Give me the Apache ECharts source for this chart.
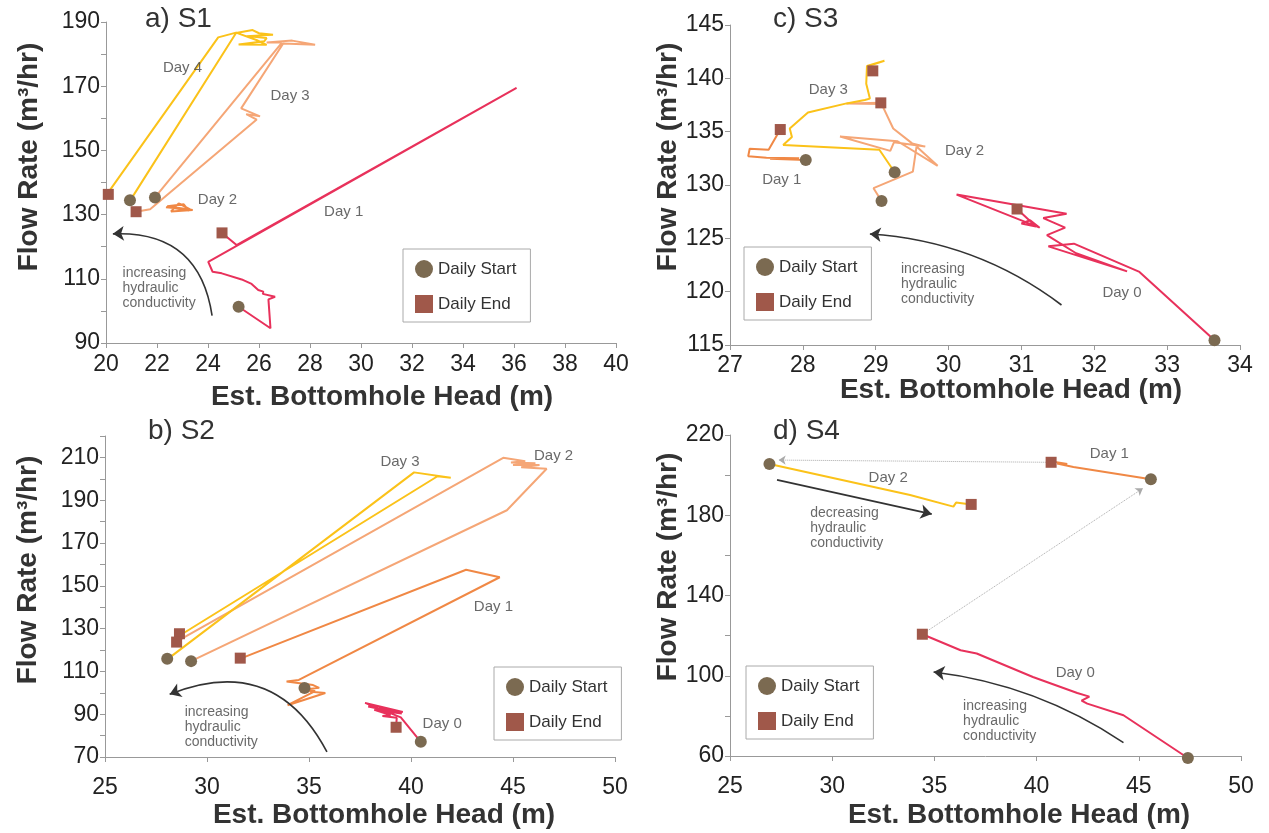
<!DOCTYPE html>
<html><head><meta charset="utf-8">
<script src="https://cdn.jsdelivr.net/npm/echarts@6/dist/echarts.min.js"></script>
<style>html,body{margin:0;padding:0;background:#fff}#c{width:1269px;height:833px}</style>
</head><body><div id="c"></div>
<script>
// ---------- S1 ----------
var s1_day1 = [[25.2,101.3],[26.45,94.6],[26.37,103.6],[26.63,104.4],[26.15,105.3],[26.17,106.0],[25.97,106.5],[25.71,108.4],[25.32,109.8],[24.54,111.7],[24.18,112.2],[24.01,115.3],[36.1,169.5],[25.12,120.5],[24.55,124.3]];
var s1_day2 = [[22.35,132.3],[23.3,131.6],[22.85,133.5],[22.55,131.0],[23.4,131.4],[22.4,132.6],[23.05,133.2],[23.25,131.2],[22.6,132.1]];
var s1_day3 = [[21.92,135.3],[22.05,136.6],[26.9,183.6],[26.3,183.6],[27.3,184.2],[28.2,182.9],[26.95,183.3],[25.3,163.1],[26.04,160.6],[25.5,161.3],[25.91,159.6],[21.73,131.7],[21.18,130.9]];
var s1_day4 = [[20.94,134.5],[21.1,136.3],[25.1,186.6],[25.75,187.5],[26.0,186.5],[26.55,186.0],[25.5,185.6],[26.3,185.0],[26.2,184.0],[25.2,183.0],[26.3,182.9],[25.9,184.4],[25.1,186.7],[24.4,185.2],[20.16,137.7],[20.09,136.3]];
var s1_start = [[25.2,101.3],[21.92,135.3],[20.94,134.5]];
var s1_end = [[24.55,124.3],[21.18,130.9],[20.09,136.3]];
var s1_dayLabels = [[23.0,175.8,'Day 4'],[27.22,166.9,'Day 3'],[24.37,134.7,'Day 2'],[29.32,131.0,'Day 1']];
var s1_note = [20.63,107.2,'increasing\nhydraulic\nconductivity'];
var s1_arrow = [[24.16,98.5],[20.27,124.0]];

// ---------- S2 ----------
var s2_day0 = [[40.48,77.1],[39.5,88.5],[37.75,95.3],[39.6,91.0],[37.9,93.6],[39.55,90.3],[38.2,92.0],[39.0,89.6],[38.6,89.2],[39.3,88.3],[39.27,83.9]];
var s2_day1 = [[34.78,102.2],[35.1,100.5],[35.8,99.9],[33.95,94.2],[35.3,100.8],[34.7,101.5],[35.5,102.3],[35.2,103.6],[33.9,105.3],[34.5,106.0],[44.35,154.0],[42.7,157.5],[31.7,116.2]];
var s2_day2 = [[29.22,114.8],[44.7,185.3],[46.65,204.7],[45.4,205.4],[46.3,206.4],[45.0,206.5],[46.1,207.3],[44.9,207.6],[45.6,208.2],[44.52,209.8],[28.7,125.0],[28.51,123.7]];
var s2_day3 = [[28.05,115.9],[28.31,117.5],[40.15,203.0],[41.95,200.5],[41.3,201.2],[28.7,127.0],[28.65,127.6]];
var s2_start = [[28.05,115.9],[29.22,114.8],[34.78,102.2],[40.48,77.1]];
var s2_end = [[28.65,127.6],[28.51,123.7],[31.63,116.2],[39.27,83.9]];
var s2_dayLabels = [[39.46,208.1,'Day 3'],[46.99,210.8,'Day 2'],[44.04,140.0,'Day 1'],[41.53,85.3,'Day 0']];
var s2_note = [28.88,84.0,'increasing\nhydraulic\nconductivity'];
var s2_arrow = [[35.88,72.4],[28.17,99.3]];

// ---------- S3 ----------
var s3_day0 = [[33.65,115.45],[32.62,121.85],[31.72,124.5],[31.37,124.25],[32.45,121.9],[31.75,123.6],[31.35,125.3],[31.6,126.0],[31.3,126.9],[31.62,127.3],[30.11,129.1],[31.25,126.0],[31.12,126.7],[31.0,126.4],[31.2,126.1],[30.94,127.75]];
var s3_day1 = [[28.04,132.35],[27.55,132.45],[27.95,132.5],[27.5,132.55],[27.25,132.7],[27.27,133.4],[27.53,133.3],[27.69,135.2]];
var s3_day2 = [[29.08,128.5],[28.97,129.7],[29.51,131.25],[29.56,133.6],[29.85,131.8],[29.3,134.1],[28.51,134.55],[29.2,133.2],[29.25,134.0],[29.68,133.6],[29.5,133.9],[29.24,135.3],[29.08,137.6],[28.6,137.65],[29.07,137.7]];
var s3_day3 = [[29.26,131.2],[29.05,133.3],[27.73,133.75],[27.85,134.5],[27.82,135.3],[28.07,136.8],[28.6,137.65],[28.85,137.97],[28.92,138.1],[28.87,139.5],[28.88,141.15],[29.12,141.65],[28.92,141.2],[28.96,140.7]];
var s3_start = [[28.04,132.35],[29.26,131.2],[29.08,128.5],[33.65,115.45]];
var s3_end = [[27.69,135.2],[28.96,140.7],[29.07,137.7],[30.94,127.75]];
var s3_dayLabels = [[28.35,138.9,'Day 3'],[30.22,133.2,'Day 2'],[27.71,130.5,'Day 1'],[32.38,119.9,'Day 0']];
var s3_note = [29.34,120.7,'increasing\nhydraulic\nconductivity'];
var s3_arrow = [[31.55,118.75],[28.92,125.4]];

// ---------- S4 ----------
var s4_day0 = [[47.4,59.0],[44.25,80.3],[42.48,86.1],[42.2,87.6],[42.58,89.6],[41.99,91.4],[39.82,99.4],[37.07,111.1],[36.28,112.7],[34.41,120.7]];
var s4_day1 = [[45.59,198.0],[41.8,204.0],[41.0,205.8],[41.5,205.6],[40.9,206.6],[40.71,206.4]];
var s4_day2 = [[26.93,205.5],[33.81,190.1],[35.93,184.3],[36.06,186.3],[36.8,185.4]];
var s4_start = [[26.93,205.5],[45.59,198.0],[47.4,59.0]];
var s4_end = [[40.71,206.4],[34.41,120.7],[36.8,185.4]];
var s4_dayLabels = [[43.56,210.4,'Day 1'],[32.74,198.7,'Day 2'],[41.89,101.4,'Day 0']];
var s4_noteDec = [28.9,173.4,'decreasing\nhydraulic\nconductivity'];
var s4_noteInc = [36.38,77.3,'increasing\nhydraulic\nconductivity'];
var s4_arrowInc = [[44.25,66.7],[34.96,101.9]];
var s4_arrowDec = [[27.3,197.6],[34.87,180.6]];
var s4_links = [[[34.41,120.7],[45.2,193.4]],[[40.57,206.4],[27.38,207.5]]];

// ---------- axes ----------
var xTicks = [{min:20,max:40,interval:2},{min:25,max:50,interval:5},{min:27,max:34,interval:1},{min:25,max:50,interval:5}];
var yTicks = [{min:90,max:190,interval:20,minor:2},{min:70,max:220,interval:20,minor:2},{min:115,max:145,interval:5,minor:0},{min:60,max:220,interval:40,minor:2}];
var panelTitles = ['a) S1','b) S2','c) S3','d) S4'];

var FONT = '"Liberation Sans", Arial, sans-serif';
var RED='#e8315b', ORANGE='#f08845', SALMON='#f5a676', YELLOW='#fbc219';
var CIRC='#7b6a51', SQR='#a0584a';

var grids = [
  {left:106, top:22, width:510, height:321},
  {left:105, top:436, width:510, height:321},
  {left:730, top:25, width:510, height:320},
  {left:730, top:435, width:511, height:321}
];
var xLabelMargin = [10, 19, 9, 19];

var xAxes = xTicks.map(function(t,i){
  return {type:'value', gridIndex:i, min:t.min, max:t.max, interval:t.interval,
    axisLine:{onZero:false, lineStyle:{color:'#999',width:1}},
    axisTick:{show:true,length:5,lineStyle:{color:'#999'}},
    splitLine:{show:false},
    axisLabel:{fontSize:23,color:'#222',margin:xLabelMargin[i],fontFamily:FONT}};
});
var yAxes = yTicks.map(function(t,i){
  return {type:'value', gridIndex:i, min:t.min, max:t.max, interval:t.interval,
    axisLine:{onZero:false, lineStyle:{color:'#999',width:1}},
    axisTick:{show:true,length:5,lineStyle:{color:'#999'}},
    minorTick:{show:t.minor>0, splitNumber:t.minor||5, length:5, lineStyle:{color:'#999'}},
    splitLine:{show:false},
    axisLabel:{fontSize:23,color:'#222',margin:6,fontFamily:FONT, showMaxLabel: (i!==1)}};
});

var series = [];
function addLine(i, data, color){
  series.push({type:'line', xAxisIndex:i, yAxisIndex:i, data:data, showSymbol:false, symbol:'none', clip:false,
    lineStyle:{color:color,width:2}, itemStyle:{color:color}, z:2, silent:true, animation:false});
}
function addMarkers(i, starts, ends){
  series.push({type:'scatter', name:'Daily Start', xAxisIndex:i, yAxisIndex:i, data:starts, symbol:'circle', symbolSize:12, clip:false, itemStyle:{color:CIRC, opacity:1}, z:6, animation:false});
  series.push({type:'scatter', name:'Daily End', xAxisIndex:i, yAxisIndex:i, data:ends, symbol:'rect', symbolSize:11, clip:false, itemStyle:{color:SQR, opacity:1}, z:6, animation:false});
}
function addLabels(i, labels){
  series.push({type:'scatter', xAxisIndex:i, yAxisIndex:i, symbolSize:1, clip:false, itemStyle:{color:'rgba(0,0,0,0)'},
    data: labels.map(function(l){return {value:[l[0],l[1]], name:l[2]};}),
    label:{show:true, position:'inside', formatter:'{b}', fontSize:15, color:'#444', fontFamily:FONT},
    silent:true, z:4, animation:false});
}
function addNote(i, note){
  series.push({type:'scatter', xAxisIndex:i, yAxisIndex:i, symbolSize:1, clip:false, itemStyle:{color:'rgba(0,0,0,0)'},
    data: [{value:[note[0],note[1]], name:note[2]}],
    label:{show:true, position:'right', distance:0, formatter:'{b}', fontSize:14, lineHeight:15, color:'#444', fontFamily:FONT},
    silent:true, z:4, animation:false});
}
function addArrow(i, a, curve, color, width, size, type){
  series.push({type:'lines', coordinateSystem:'cartesian2d', xAxisIndex:i, yAxisIndex:i,
    silent:true, animation:false, z:3, clip:false,
    symbol:['none','arrow'], symbolSize:size,
    itemStyle:{color:color},
    lineStyle:{color:color, width:width, type:type, curveness:curve, opacity:1},
    data:[{coords:[a[0], a[1]]}]});
}

addLine(0, s1_day1, RED); addLine(0, s1_day2, ORANGE); addLine(0, s1_day3, SALMON); addLine(0, s1_day4, YELLOW);
addLine(1, s2_day0, RED); addLine(1, s2_day1, ORANGE); addLine(1, s2_day2, SALMON); addLine(1, s2_day3, YELLOW);
addLine(2, s3_day0, RED); addLine(2, s3_day1, ORANGE); addLine(2, s3_day2, SALMON); addLine(2, s3_day3, YELLOW);
addLine(3, s4_day0, RED); addLine(3, s4_day1, ORANGE); addLine(3, s4_day2, YELLOW);

addMarkers(0, s1_start, s1_end); addMarkers(1, s2_start, s2_end); addMarkers(2, s3_start, s3_end); addMarkers(3, s4_start, s4_end);
addLabels(0, s1_dayLabels); addLabels(1, s2_dayLabels); addLabels(2, s3_dayLabels); addLabels(3, s4_dayLabels);
addNote(0, s1_note); addNote(1, s2_note); addNote(2, s3_note); addNote(3, s4_noteDec); addNote(3, s4_noteInc);

addArrow(0, s1_arrow, -0.45, '#333', 1.6, 11, 'solid');
addArrow(1, s2_arrow, -0.45, '#333', 1.6, 11, 'solid');
addArrow(2, s3_arrow, -0.15, '#333', 1.6, 11, 'solid');
addArrow(3, s4_arrowInc, -0.12, '#333', 1.6, 11, 'solid');
addArrow(3, s4_arrowDec, 0, '#333', 1.8, 11, 'solid');
addArrow(3, s4_links[0], 0, '#aaa', 1, 7, 'dotted');
addArrow(3, s4_links[1], 0, '#aaa', 1, 7, 'dotted');

var legendPos = [{left:403,top:249},{left:494,top:667},{left:744,top:247},{left:746,top:666}];
var legends = legendPos.map(function(p){
  return {left:p.left, top:p.top, orient:'vertical', data:['Daily Start','Daily End'],
    borderColor:'#aaa', borderWidth:1, padding:[11,14,9,12], itemGap:17, itemWidth:18, itemHeight:18,
    textStyle:{fontSize:17,color:'#333',fontFamily:FONT}, selectedMode:false};
});

var titlePos = [{left:145,top:5},{left:148,top:417},{left:773,top:5},{left:773,top:417}];
var titles = panelTitles.map(function(t,i){
  return {text:t, left:titlePos[i].left, top:titlePos[i].top, padding:0,
    textStyle:{fontSize:28,fontWeight:'normal',color:'#333',fontFamily:FONT}};
});

var xTitlePos = [[382,397],[384,815],[1011,390],[1019,815]];
var yTitlePos = [[29,157],[28,570],[668,157],[668,567]];
var graphics = [];
xTitlePos.forEach(function(p){
  graphics.push({type:'text', x:p[0], y:p[1], silent:true,
    style:{text:'Est. Bottomhole Head (m)', font:'bold 28px "Liberation Sans", Arial, sans-serif', fill:'#333', align:'center', verticalAlign:'middle'}});
});
yTitlePos.forEach(function(p){
  graphics.push({type:'text', x:p[0], y:p[1], rotation:Math.PI/2, silent:true,
    style:{text:'Flow Rate (m\u00b3/hr)', font:'bold 28px "Liberation Sans", Arial, sans-serif', fill:'#333', align:'center', verticalAlign:'middle'}});
});

var chart = echarts.init(document.getElementById('c'), null, {renderer:'canvas'});
chart.setOption({
  backgroundColor:'#fff',
  animation:false,
  title:titles,
  legend:legends,
  grid:grids.map(function(g){return Object.assign({outerBoundsMode:'none'}, g);}),
  xAxis:xAxes,
  yAxis:yAxes,
  series:series,
  graphic:graphics
});
</script></body></html>
